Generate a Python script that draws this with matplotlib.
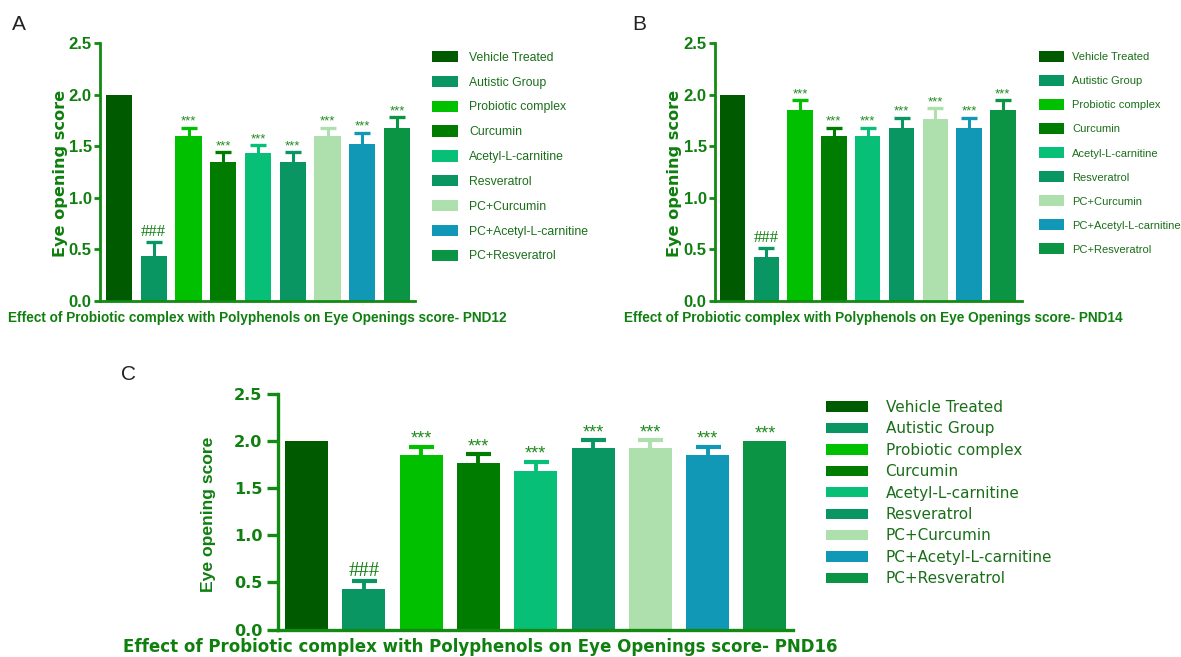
import matplotlib
matplotlib.use("Agg")
import matplotlib.pyplot as plt
from matplotlib.patches import Patch

groups = ["Vehicle Treated", "Autistic Group", "Probiotic complex", "Curcumin",
          "Acetyl-L-carnitine", "Resveratrol", "PC+Curcumin",
          "PC+Acetyl-L-carnitine", "PC+Resveratrol"]
bar_colors = ["#005a00", "#0a9662", "#00c000", "#007c00", "#08bf78",
              "#0a9662", "#aee0ae", "#1198b6", "#0a9444"]

pnd12_mean = [2.0, 0.43, 1.60, 1.35, 1.43, 1.35, 1.60, 1.52, 1.68]
pnd12_sem = [0.0, 0.14, 0.08, 0.09, 0.08, 0.09, 0.08, 0.11, 0.10]
pnd14_mean = [2.0, 0.43, 1.85, 1.60, 1.60, 1.68, 1.77, 1.68, 1.85]
pnd14_sem = [0.0, 0.08, 0.10, 0.08, 0.08, 0.10, 0.10, 0.10, 0.10]
pnd16_mean = [2.0, 0.43, 1.85, 1.77, 1.68, 1.93, 1.93, 1.85, 2.0]
pnd16_sem = [0.0, 0.08, 0.09, 0.09, 0.10, 0.08, 0.08, 0.09, 0.0]
sig_marks = ["", "###", "***", "***", "***", "***", "***", "***", "***"]

titles = ["Effect of Probiotic complex with Polyphenols on Eye Openings score- PND12",
          "Effect of Probiotic complex with Polyphenols on Eye Openings score- PND14",
          "Effect of Probiotic complex with Polyphenols on Eye Openings score- PND16"]
yticks = [0.0, 0.5, 1.0, 1.5, 2.0, 2.5]
ylabel = "Eye opening score"
panel_letters = ["A", "B", "C"]

W, H = 1181, 657
fig = plt.figure(figsize=(W / 100, H / 100), dpi=100)

TEXT = "#0f7f0f"
SPINE = "#138a13"
NARROW = ["Liberation Sans", "DejaVu Sans"]
WIDE = ["DejaVu Sans"]


def px_rect(l, r, t, b):
    return [l / W, 1 - b / H, (r - l) / W, (b - t) / H]


def fpx(x, y):
    return x / W, 1 - y / H


def draw_panel(rect, xlim, means, sems, st):
    ax = fig.add_axes(rect)
    x = list(range(len(groups)))
    for i in x:
        if sems[i] > 0:
            ax.errorbar(i, means[i], yerr=sems[i], fmt="none",
                        ecolor=bar_colors[i], elinewidth=st["elw"],
                        capsize=st["capsize"], capthick=st["capthick"],
                        zorder=1)
    bars = ax.bar(x, means, width=0.75, color=bar_colors, zorder=2,
                  linewidth=0)
    for i in x:
        top = means[i] + sems[i]
        if sig_marks[i] == "###":
            ax.text(i, top + st["hash_off"], "###", ha="center", va="bottom",
                    fontsize=st["hash_fs"], color=TEXT,
                    family=["Liberation Serif", "DejaVu Serif"])
        elif sig_marks[i]:
            ax.text(i, top + st["ast_off"], sig_marks[i], ha="center",
                    va="bottom", fontsize=st["ast_fs"], color="#1f8a1f",
                    family=["Liberation Sans", "DejaVu Sans"])
    ax.set_xlim(*xlim)
    ax.set_ylim(0, 2.5)
    ax.set_yticks(yticks)
    ax.set_yticklabels([f"{v:.1f}" for v in yticks])
    ax.set_xticks([])
    for s in ["top", "right"]:
        ax.spines[s].set_visible(False)
    for s in ["left", "bottom"]:
        ax.spines[s].set_color(SPINE)
        ax.spines[s].set_linewidth(st["spw"])
    ax.tick_params(axis="y", colors=SPINE, length=st["tlen"], width=st["spw"],
                   pad=st["tpad"])
    for lab in ax.get_yticklabels():
        lab.set_color(TEXT)
        lab.set_fontweight("bold")
        lab.set_fontsize(st["tick_fs"])
        lab.set_family(st["tick_family"])
    return ax, bars


style_ab = dict(elw=2.2, capsize=5.5, capthick=2.4, hash_off=0.02, hash_fs=12,
                ast_off=0.0, ast_fs=9.5, spw=2.0, tlen=4, tpad=2,
                tick_fs=12, tick_family=NARROW)
style_c = dict(elw=2.8, capsize=9, capthick=3.0, hash_off=0.0, hash_fs=15,
               ast_off=-0.01, ast_fs=13, spw=2.4, tlen=8, tpad=3,
               tick_fs=11.6, tick_family=WIDE)

axA, barsA = draw_panel(px_rect(100, 415, 43.3, 300.7), (-0.547, 8.518),
                        pnd12_mean, pnd12_sem, style_ab)
axB, barsB = draw_panel(px_rect(715, 1021.7, 43.3, 301), (-0.518, 8.556),
                        pnd14_mean, pnd14_sem, style_ab)
axC, barsC = draw_panel(px_rect(277.7, 793, 394, 629.5), (-0.503, 8.49),
                        pnd16_mean, pnd16_sem, style_c)

handles = [Patch(facecolor=c, edgecolor="none") for c in bar_colors]

# legends
fig.legend(handles, groups, loc="upper left", bbox_to_anchor=fpx(432, 51),
           frameon=False, prop={"family": NARROW, "size": 8.8},
           labelcolor="#1a6e1a", handlelength=2.1, handleheight=1.05,
           handletextpad=0.95, labelspacing=0.98, borderpad=0, borderaxespad=0)
fig.legend(handles, groups, loc="upper left", bbox_to_anchor=fpx(1039, 51),
           frameon=False, prop={"family": NARROW, "size": 8.0},
           labelcolor="#1a6e1a", handlelength=2.25, handleheight=1.15,
           handletextpad=0.72, labelspacing=1.15, borderpad=0, borderaxespad=0)
fig.legend(handles, groups, loc="upper left", bbox_to_anchor=fpx(826, 400),
           frameon=False, prop={"family": WIDE, "size": 11},
           labelcolor="#1a6e1a", handlelength=2.75, handleheight=0.66,
           handletextpad=1.15, labelspacing=0.42, borderpad=0, borderaxespad=0)

# y labels
fig.text(*fpx(60, 173), ylabel, rotation=90, ha="center", va="center",
         fontsize=11.6, fontweight="bold", color=TEXT, family=WIDE)
fig.text(*fpx(674, 173), ylabel, rotation=90, ha="center", va="center",
         fontsize=11.6, fontweight="bold", color=TEXT, family=WIDE)
fig.text(*fpx(208, 514), ylabel, rotation=90, ha="center", va="center",
         fontsize=12.6, fontweight="bold", color=TEXT,
         family=["Liberation Sans", "DejaVu Sans"])

# titles under the x axes
fig.text(*fpx(8, 322.3), titles[0], ha="left", va="baseline", fontsize=9.8,
         fontweight="bold", color=TEXT, family=NARROW)
fig.text(*fpx(624, 322.3), titles[1], ha="left", va="baseline", fontsize=9.8,
         fontweight="bold", color=TEXT, family=NARROW)
fig.text(*fpx(123, 652.5), titles[2], ha="left", va="baseline", fontsize=12.0,
         fontweight="bold", color=TEXT, family=WIDE)

# panel letters
for letter, (px, py) in zip(panel_letters, [(19, 25), (639, 25), (129, 374)]):
    fig.text(*fpx(px, py), letter, ha="center", va="center", fontsize=15,
             color="#222222", family=["Liberation Sans", "DejaVu Sans"])

fig.savefig("out.png", dpi=100)
